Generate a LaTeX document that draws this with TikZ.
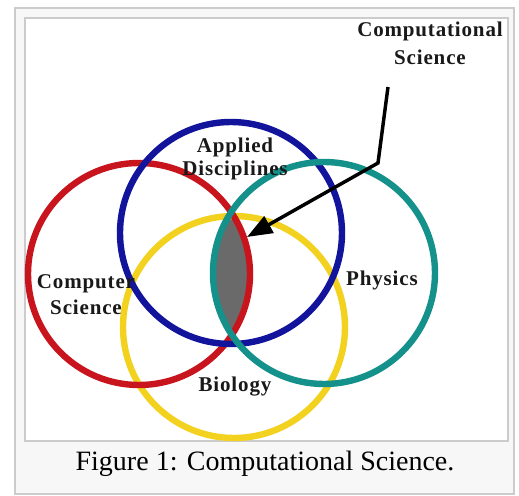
\documentclass[tikz,border=0pt]{standalone}
\usepackage{fontspec}
\setmainfont{Liberation Serif}
\newfontfamily\labelfont[LetterSpace=4]{Liberation Serif}
\usetikzlibrary{arrows.meta}

\definecolor{csred}{HTML}{C8141C}
\definecolor{adblue}{HTML}{12149C}
\definecolor{phteal}{HTML}{14918A}
\definecolor{bioyellow}{HTML}{F2D21E}
\definecolor{framegray}{HTML}{CCCCCC}
\definecolor{lensgray}{HTML}{6A6A6A}

\begin{document}
\begin{tikzpicture}[x=0.75pt, y=-0.75pt,
    ring/.style={line width=4.8pt},
    field/.style={inner sep=0pt, align=center, text=black!90,
      font=\labelfont\bfseries\fontsize{15.75}{19.5}\selectfont},
    pointer/.style={line width=2.6pt, line join=miter,
      -{Triangle[length=19pt, width=14pt]}}]
	\useasboundingbox (0,0) rectangle (519,496);
	
	% Frame
	\draw[framegray, line width=1.5pt, fill=black!3] (15,8) rectangle (514,494);
	\draw[framegray, line width=1.2pt, fill=white] (25,18) rectangle (508,441);
	
	% Circle centres
	\coordinate (redc) at (139,274);
	\coordinate (bluec) at (231,233);
	\coordinate (tealc) at (324,273);
	\coordinate (yellowc) at (234,327);
	
	% Shared region
	\begin{scope}
		\clip (redc) circle[radius=83.25pt];
		\fill[lensgray] (tealc) circle[radius=83.25pt];
	\end{scope}
	
	% Circles
	\draw[ring, bioyellow] (yellowc) circle[radius=83.25pt];
	\draw[ring, csred] (redc) circle[radius=83.25pt];
	\draw[ring, adblue] (bluec) circle[radius=83.25pt];
	\draw[ring, phteal] (tealc) circle[radius=83.25pt];
	
	% Labels
	\node[field] (applied) at (235,159) {Applied\\[-2.5pt]Disciplines};
	\node[field] (computer) at (86,295) {Computer\\Science};
	\node[field] (physics) at (382,280) {Physics};
	\node[field] (biology) at (235,387) {Biology};
	\node[field, font=\labelfont\bfseries\fontsize{15.75}{21}\selectfont] (compsci) at (430,43) {Computational\\Science};
	
	% Pointer
	\coordinate (start) at (388,87);
	\coordinate (bend) at (378,163);
	\coordinate (tip) at (247,237);
	\draw[pointer] (start) -- (bend) -- (tip);
	
	% Caption
	\node[font=\fontsize{21}{25}\selectfont, inner sep=0pt] (caption) at (265,464) {Figure 1: Computational Science.};
\end{tikzpicture}
\end{document}
